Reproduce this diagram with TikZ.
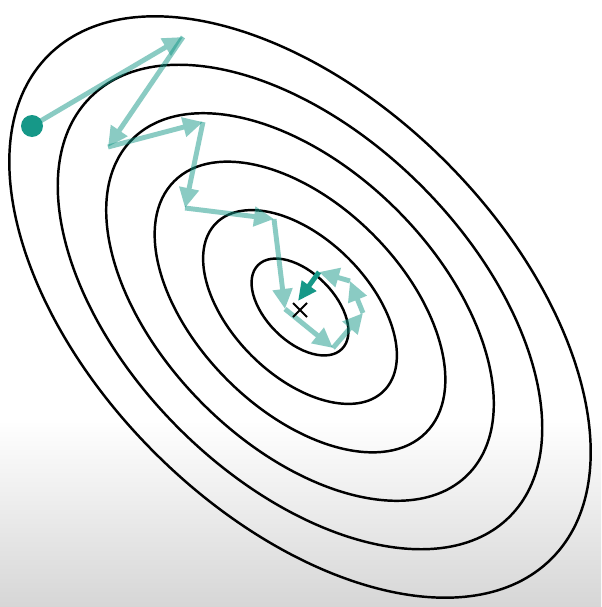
\documentclass[tikz,border=0pt]{standalone}
\usepackage{tikz}
\usetikzlibrary{arrows.meta, calc}

\definecolor{tealdark}{RGB}{22,152,136}
\tikzset{
  contour/.style={line width=1.4pt, black},
  stepline/.style={line width=2.8pt, tealdark,
    -{Triangle[length=4mm, width=3.8mm]}},
  laststep/.style={line width=2.8pt, tealdark,
    -{Triangle[length=3.8mm, width=3.4mm]}}
}

\begin{document}
\begin{tikzpicture}[x=0.2mm, y=-0.2mm]
  % Frame and grey fade at the bottom
  \useasboundingbox (0,0) rectangle (601,607);
  \fill[white] (0,0) rectangle (601,420);
  \shade[top color=white, bottom color=black!16] (0,420) rectangle (601,607);

  % Minimum
  \coordinate (C) at (300,307);

  % Level curves
  \foreach \k in {1,...,6}
    \draw[contour, rotate around={-45:(C)}] (C) ellipse [x radius=59.3*\k, y radius=34.3*\k];

  % Iterates
  \coordinate (p0) at (32,126);
  \coordinate (p1) at (183,37);
  \coordinate (p2) at (108,147);
  \coordinate (p3) at (203,122);
  \coordinate (p4) at (185,208);
  \coordinate (p5) at (274,219);
  \coordinate (p6) at (285,309);
  \coordinate (p7) at (333,348);
  \coordinate (p8) at (363,313);
  \coordinate (p9) at (350,281);
  \coordinate (p10) at (319,272);
  \coordinate (p11) at (298,301);

  % Steps
  \foreach \a/\b in {p0/p1, p1/p2, p2/p3, p3/p4, p4/p5, p5/p6, p6/p7, p7/p8, p8/p9, p9/p10}{
    \begin{scope}[transparency group, opacity=0.5]
      \draw[stepline] (\a) -- (\b);
    \end{scope}
  }
  \draw[laststep] (p10) -- (p11);

  % Start point and optimum
  \fill[tealdark] (p0) circle (11);
  \draw[line width=1.1pt] ($(C)+(-7,-4)$) -- ($(C)+(7,10)$)
                          ($(C)+(-7,10)$) -- ($(C)+(7,-4)$);
\end{tikzpicture}
\end{document}
